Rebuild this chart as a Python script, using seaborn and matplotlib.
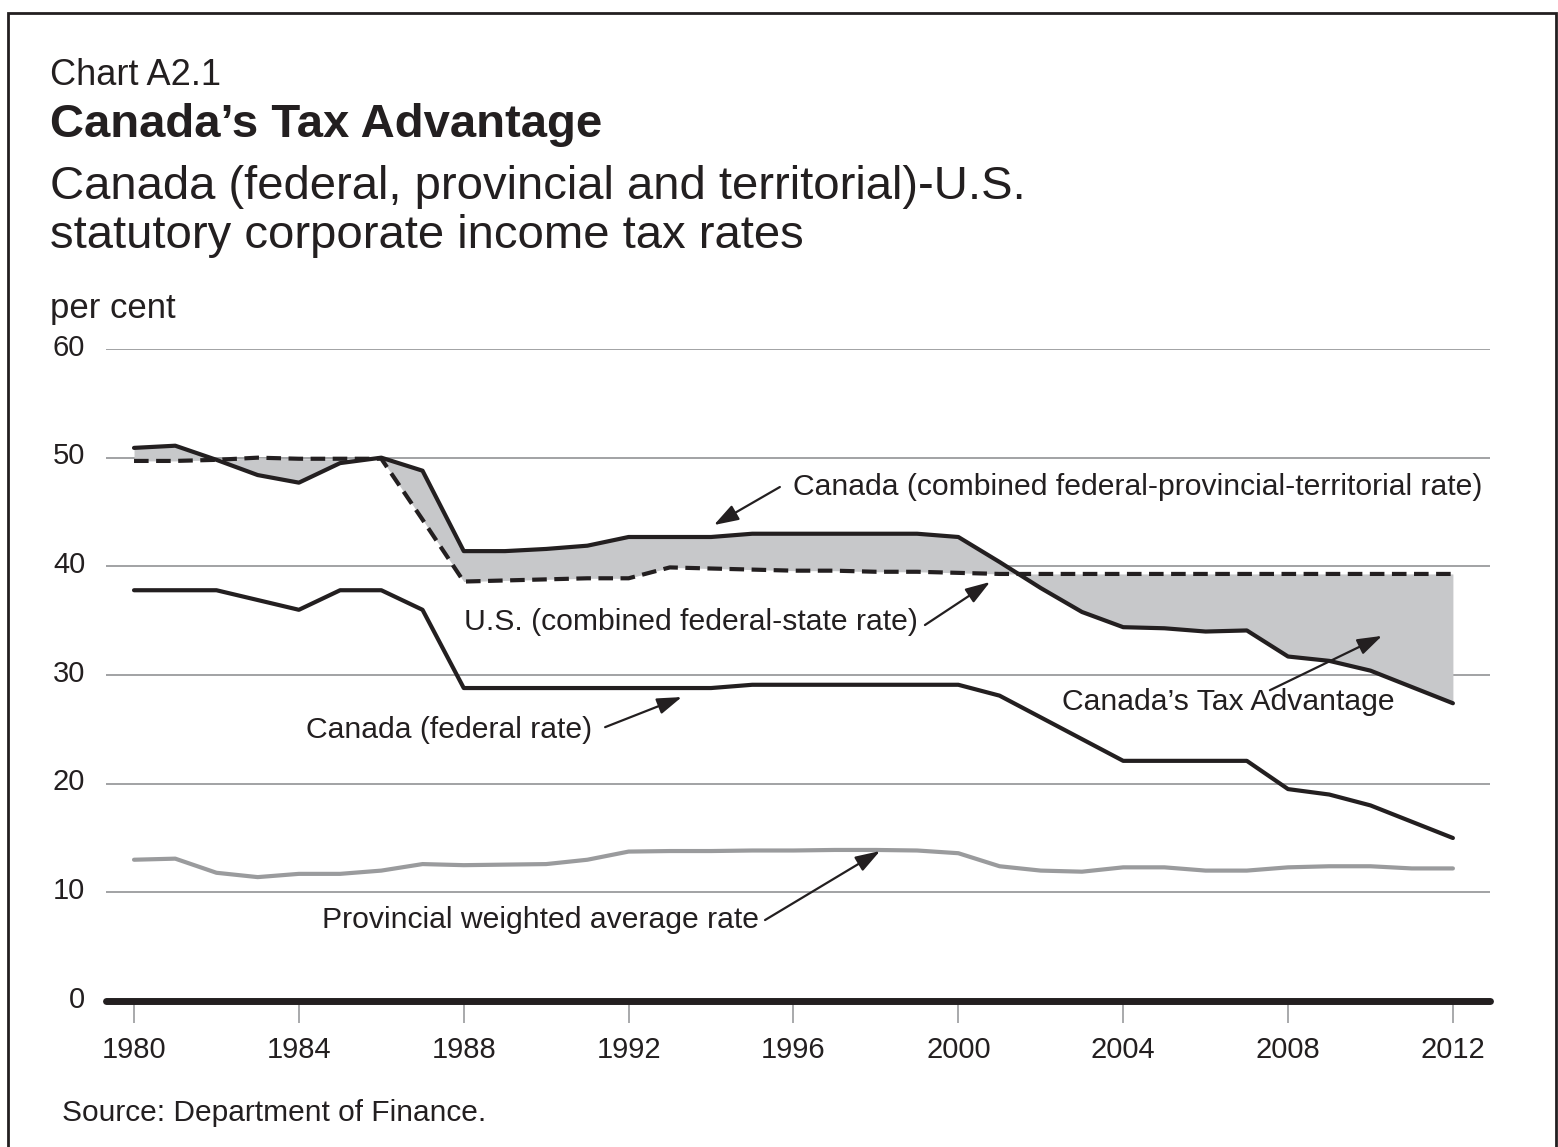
import numpy as np
import pandas as pd
import matplotlib
matplotlib.use('Agg')
import matplotlib.pyplot as plt
import matplotlib.transforms as mtransforms
import seaborn as sns
from matplotlib.patches import Rectangle

# Values (per cent)
years = list(range(1980, 2013))
canada_combined = [50.9, 51.1, 49.8, 48.4, 47.7, 49.5, 50.0, 48.8, 41.4, 41.4,
                   41.6, 41.9, 42.7, 42.7, 42.7, 43.0, 43.0, 43.0, 43.0, 43.0,
                   42.7, 40.4, 38.0, 35.8, 34.4, 34.3, 34.0, 34.1, 31.7, 31.3,
                   30.4, 28.9, 27.4]
us_combined = [49.7, 49.7, 49.8, 50.0, 49.9, 49.9, 49.9, 44.3, 38.6, 38.7,
               38.8, 38.9, 38.9, 39.9, 39.8, 39.7, 39.6, 39.6, 39.5, 39.5,
               39.4, 39.3, 39.3, 39.3, 39.3, 39.3, 39.3, 39.3, 39.3, 39.3,
               39.3, 39.3, 39.3]
canada_federal = [37.8, 37.8, 37.8, 36.9, 36.0, 37.8, 37.8, 36.0, 28.8, 28.8,
                  28.8, 28.8, 28.8, 28.8, 28.8, 29.1, 29.1, 29.1, 29.1, 29.1,
                  29.1, 28.1, 26.1, 24.1, 22.1, 22.1, 22.1, 22.1, 19.5, 19.0,
                  18.0, 16.5, 15.0]
provincial = [13.0, 13.1, 11.8, 11.4, 11.7, 11.7, 12.0, 12.6, 12.5, 12.55,
              12.6, 13.0, 13.75, 13.8, 13.8, 13.85, 13.85, 13.9, 13.9, 13.85,
              13.6, 12.4, 12.0, 11.9, 12.3, 12.3, 12.0, 12.0, 12.3, 12.4,
              12.4, 12.2, 12.2]
year_ticks = [1980, 1984, 1988, 1992, 1996, 2000, 2004, 2008, 2012]
pct_ticks = [0, 10, 20, 30, 40, 50, 60]

df = pd.DataFrame({'year': years, 'canada': canada_combined, 'us': us_combined,
                   'federal': canada_federal, 'prov': provincial})

sns.set_style('white')
plt.rcParams['font.family'] = ['Liberation Sans', 'DejaVu Sans']

W, H = 1558, 1147
ink = '#231f20'
grey = '#9a9b9d'
fill_grey = '#c7c8ca'

fig = plt.figure(figsize=(W / 100, H / 100), dpi=100)
ax = fig.add_axes([106 / W, 146 / H, 1384 / W, 652 / H])

# shaded gap between Canada combined and U.S. combined
ax.fill_between(df['year'], df['canada'], df['us'], color=fill_grey, lw=0, zorder=1)

sns.lineplot(data=df, x='year', y='prov', color=grey, lw=3, ax=ax, zorder=3)
sns.lineplot(data=df, x='year', y='federal', color=ink, lw=3, ax=ax, zorder=3)
sns.lineplot(data=df, x='year', y='canada', color=ink, lw=3, ax=ax, zorder=3)
sns.lineplot(data=df, x='year', y='us', color=ink, lw=3, ax=ax, zorder=4,
             linestyle=(0, (3.5, 1.8)))

ax.set_xlim(1979.32, 2012.9)
ax.set_ylim(0, 60)
ax.set_xticks(year_ticks)
ax.set_yticks(pct_ticks)
ax.set_xlabel('')
ax.set_ylabel('')
for v in pct_ticks[1:]:
    ax.axhline(v, color=grey, lw=1.3, zorder=0)
ax.axhline(0, color=ink, lw=5, zorder=5, clip_on=False)

for s in ax.spines.values():
    s.set_visible(False)
ax.tick_params(axis='y', length=0, pad=15, labelsize=21, labelcolor=ink)
ax.tick_params(axis='x', direction='out', length=16, width=1.2, color=grey,
               pad=9, labelsize=21, labelcolor=ink, bottom=True)
shift = mtransforms.ScaledTranslation(0, 3 / 72, fig.dpi_scale_trans)
for lab in ax.get_yticklabels():
    lab.set_transform(lab.get_transform() + shift)

# annotations: labels and arrows drawn separately
fs = 21.7
arrow = dict(arrowstyle='-|>,head_length=0.75,head_width=0.25', color=ink,
             lw=1.6, shrinkA=0, shrinkB=0, mutation_scale=20)

def label(x, y, s, ha):
    ax.text(x, y, s, ha=ha, va='center', fontsize=fs, color=ink, zorder=6)

def pointer(tail, head):
    ax.annotate('', xy=head, xytext=tail, arrowprops=arrow, zorder=6)

label(1995.99, 47.3, 'Canada (combined federal-provincial-territorial rate)', 'left')
pointer((1995.67, 47.3), (1994.07, 43.8))
label(1999.02, 34.9, 'U.S. (combined federal-state rate)', 'right')
pointer((1999.19, 34.6), (2000.77, 38.56))
label(1991.11, 24.9, 'Canada (federal rate)', 'right')
pointer((1991.43, 25.2), (1993.29, 27.97))
label(2006.56, 27.5, 'Canada\u2019s Tax Advantage', 'center')
pointer((2007.56, 28.6), (2010.28, 33.6))
label(1995.16, 7.45, 'Provincial weighted average rate', 'right')
pointer((1995.31, 7.45), (1998.10, 13.8))

# titles and notes
def ftext(x, y, s, **kw):
    fig.text(x / W, 1 - y / H, s, ha='left', va='baseline', color=ink, **kw)

ftext(50, 85, 'Chart A2.1', fontsize=26)
ftext(50, 137, 'Canada\u2019s Tax Advantage', fontsize=34, fontweight='bold')
ftext(50, 199, 'Canada (federal, provincial and territorial)-U.S.', fontsize=34)
ftext(50, 248, 'statutory corporate income tax rates', fontsize=34)
ftext(50, 318, 'per cent', fontsize=25)
ftext(62, 1121, 'Source: Department of Finance.', fontsize=21.5)

fig.patches.append(Rectangle((8 / W, -0.1), 1548 / W, 1.1 - 13 / H,
                             transform=fig.transFigure, fill=False,
                             ec=ink, lw=2))

fig.savefig('out.png', dpi=100)
